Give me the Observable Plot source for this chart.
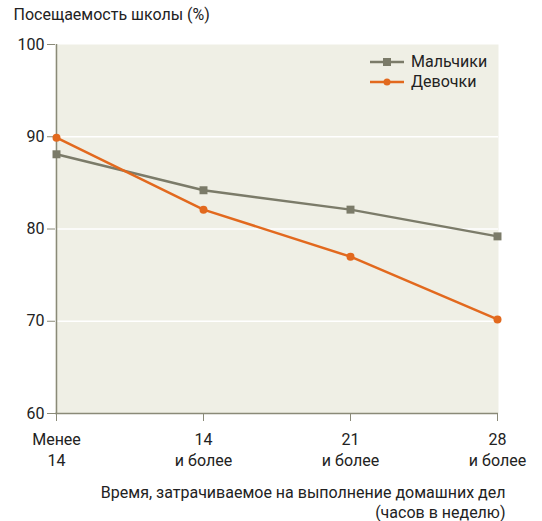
<!DOCTYPE html>
<html><head><meta charset="utf-8">
<script src="https://cdn.jsdelivr.net/npm/d3@7"></script>
<script src="https://cdn.jsdelivr.net/npm/@observablehq/plot@0.6"></script>
<style>
body{margin:0;background:#fff;font-family:"Liberation Sans Narrow","Roboto",sans-serif;}
#wrap{position:relative;width:542px;height:521px;}
#legend{position:absolute;left:370px;top:52px;font-size:16px;color:#222;line-height:20px;}
#legend div{display:flex;align-items:center;height:20px;}
#legend svg{margin-right:7px;}
</style></head>
<body><div id="wrap"><div id="legend"></div></div>
<script>
const categories = ["Менее\n14", "14\nи более", "21\nи более", "28\nи более"];
const boys = [88.1, 84.2, 82.1, 79.2];
const girls = [89.9, 82.1, 77.0, 70.2];
const seriesNames = ["Мальчики", "Девочки"];
const colors = ["#7b7b69", "#e2691e"];
const yTicks = [60, 70, 80, 90, 100];
const gridTicks = [70, 80, 90];
const title = "Посещаемость школы (%)";
const xTitle = "Время, затрачиваемое на выполнение домашних дел\n(часов в неделю)";

const rows = [
  ...categories.map((c, i) => ({cat: c, v: boys[i], s: seriesNames[0]})),
  ...categories.map((c, i) => ({cat: c, v: girls[i], s: seriesNames[1]}))
];
const axisColor = "#8a8a78";
const font = '"Liberation Sans Narrow","Roboto",sans-serif';

const chart = Plot.plot({
  width: 542, height: 521,
  marginLeft: 55, marginRight: 44, marginTop: 44, marginBottom: 108,
  style: {fontFamily: font, fontSize: "16px", color: "#222", background: "transparent"},
  x: {type: "point", domain: categories, padding: 0},
  y: {domain: [60, 100]},
  color: {domain: seriesNames, range: colors},
  marks: [
    Plot.frame({fill: "#efefe5", stroke: null}),
    Plot.ruleY(gridTicks, {stroke: "#fff", strokeWidth: 1.5}),
    Plot.ruleX([categories[0]], {stroke: axisColor, strokeWidth: 1.5}),
    Plot.ruleY([60], {stroke: axisColor, strokeWidth: 1.5}),
    Plot.axisY({ticks: yTicks, tickSize: 8, tickPadding: 3, stroke: axisColor, fill: "#222", fontSize: 16, label: null}),
    Plot.axisX({tickSize: 8, tickPadding: 8, stroke: axisColor, fill: "#222", fontSize: 16, lineHeight: 1.35, label: null}),
    Plot.line(rows.filter(d => d.s === seriesNames[0]), {x: "cat", y: "v", stroke: colors[0], strokeWidth: 2.5}),
    Plot.dot(rows.filter(d => d.s === seriesNames[0]), {x: "cat", y: "v", fill: colors[0], symbol: "square", r: 4.5}),
    Plot.line(rows.filter(d => d.s === seriesNames[1]), {x: "cat", y: "v", stroke: colors[1], strokeWidth: 2.5}),
    Plot.dot(rows.filter(d => d.s === seriesNames[1]), {x: "cat", y: "v", fill: colors[1], r: 4}),
    Plot.text([title], {frameAnchor: "top-left", dx: -42, dy: -36, fontSize: 16, fill: "#222", textAnchor: "start", lineAnchor: "top"}),
    Plot.text([xTitle], {frameAnchor: "bottom-right", dx: 7, dy: 70, fontSize: 16, fill: "#222", textAnchor: "end", lineAnchor: "top", lineHeight: 1.25})
  ]
});
document.getElementById("wrap").prepend(chart);

const legend = document.getElementById("legend");
seriesNames.forEach((name, i) => {
  const row = document.createElement("div");
  const marker = i === 0
    ? `<rect x="13" y="6" width="8" height="8" fill="${colors[i]}"/>`
    : `<circle cx="17" cy="10" r="3.5" fill="${colors[i]}"/>`;
  row.innerHTML = `<svg width="34" height="20"><line x1="0" x2="34" y1="10" y2="10" stroke="${colors[i]}" stroke-width="2.5"/>${marker}</svg><span>${name}</span>`;
  legend.appendChild(row);
});
</script>
</body></html>
